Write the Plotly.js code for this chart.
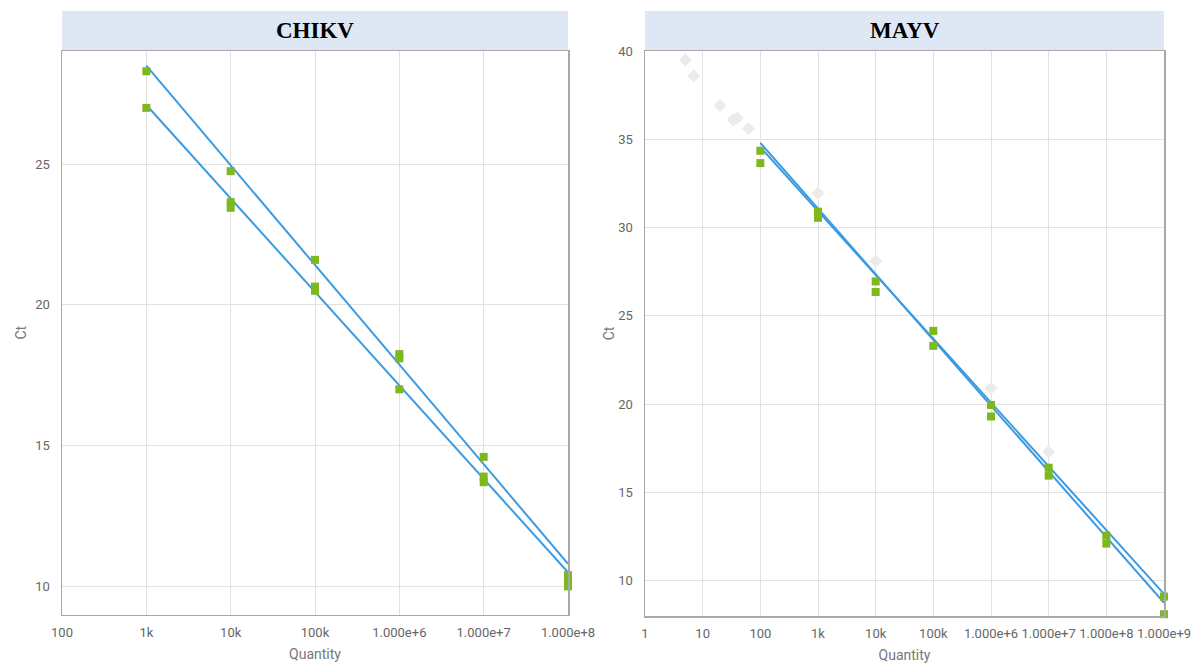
<!DOCTYPE html>
<html>
<head>
<meta charset="utf-8">
<script src="https://cdn.plot.ly/plotly-3.0.1.min.js"></script>
<style>
  html, body { margin: 0; padding: 0; background: #ffffff; }
  #chart { width: 1202px; height: 663px; }
</style>
</head>
<body>
<div id="chart"></div>
<script>
// CHIKV standard curve: replicate Ct values per copy quantity
const chikvQty = [1e3, 1e3, 1e4, 1e4, 1e4, 1e5, 1e5, 1e5, 1e6, 1e6, 1e6, 1e7, 1e7, 1e7, 1e8, 1e8, 1e8];
const chikvCt  = [28.3, 27.0, 24.75, 23.65, 23.45, 21.6, 20.65, 20.5, 18.25, 18.1, 17.0, 14.6, 13.9, 13.7, 10.4, 10.2, 10.0];

// CHIKV regression lines (two runs)
const chikvFitQty = [1e3, 1e8];
const chikvFitA   = [28.5, 10.8];
const chikvFitB   = [27.1, 10.5];

// MAYV standard curve: replicates used in the fit
const mayvQty = [100, 100, 1e3, 1e3, 1e4, 1e4, 1e5, 1e5, 1e6, 1e6, 1e7, 1e7, 1e8, 1e8, 1e9, 1e9];
const mayvCt  = [34.35, 33.65, 30.9, 30.55, 26.95, 26.35, 24.15, 23.3, 19.95, 19.3, 16.4, 15.95, 12.55, 12.1, 9.1, 8.1];

// MAYV excluded wells
const mayvOutQty = [5, 7, 20, 34, 40, 62, 1e3, 1e4, 1e6, 1e7];
const mayvOutCt  = [39.5, 38.6, 36.9, 36.1, 36.2, 35.6, 31.95, 28.1, 20.9, 17.3];

// MAYV regression lines (two runs)
const mayvFitQty = [100, 1e9];
const mayvFitA   = [34.55, 9.25];
const mayvFitB   = [34.8, 8.75];

// Tick labels
const chikvTickVals = [100, 1e3, 1e4, 1e5, 1e6, 1e7, 1e8];
const chikvTickText = ['100', '1k', '10k', '100k', '1.000e+6', '1.000e+7', '1.000e+8'];
const mayvTickVals  = [1, 10, 100, 1e3, 1e4, 1e5, 1e6, 1e7, 1e8, 1e9];
const mayvTickText  = ['1', '10', '100', '1k', '10k', '100k', '1.000e+6', '1.000e+7', '1.000e+8', '1.000e+9'];

const panelTitles = ['CHIKV', 'MAYV'];

const fitColor = '#3a9be2';
const pointColor = '#7eb71e';
const fadedColor = '#ebebeb';

function fitLine(x, y, xa, ya) {
  return { x, y, xaxis: xa, yaxis: ya, type: 'scatter', mode: 'lines',
           line: { color: fitColor, width: 2 }, hoverinfo: 'skip', cliponaxis: false };
}
function points(x, y, xa, ya, color, symbol, size) {
  return { x, y, xaxis: xa, yaxis: ya, type: 'scatter', mode: 'markers', cliponaxis: false,
           marker: { color, symbol, size, line: { width: 0 } } };
}

const data = [
  fitLine(chikvFitQty, chikvFitA, 'x', 'y'),
  fitLine(chikvFitQty, chikvFitB, 'x', 'y'),
  points(chikvQty, chikvCt, 'x', 'y', pointColor, 'square', 8),
  points(mayvOutQty, mayvOutCt, 'x2', 'y2', fadedColor, 'diamond', 10),
  fitLine(mayvFitQty, mayvFitA, 'x2', 'y2'),
  fitLine(mayvFitQty, mayvFitB, 'x2', 'y2'),
  points(mayvQty, mayvCt, 'x2', 'y2', pointColor, 'square', 8)
];

const W = 1202, H = 663;
const px = v => v / W;
const py = v => (H - v) / H;

const tickFont = { family: 'Roboto, sans-serif', size: 13, color: '#666' };
const titleFont = { family: 'Roboto, sans-serif', size: 14, color: '#777' };
const headFont = { family: '"Liberation Serif", "Times New Roman", serif', size: 23, color: '#000' };

function xAxis(domain, range, vals, text, anchor) {
  return {
    domain, type: 'log', range, anchor,
    tickvals: vals, ticktext: text, tickfont: tickFont,
    showgrid: true, gridcolor: '#e2e2e2', gridwidth: 1,
    showline: true, mirror: true, linecolor: '#a8a8a8', linewidth: 1.5,
    zeroline: false, ticks: '', ticklabelstandoff: 5,
    title: { text: 'Quantity', font: titleFont, standoff: 10 }
  };
}
function yAxis(domain, range, dtick, anchor, standoff) {
  return {
    domain, range, dtick, tick0: 0, anchor,
    tickfont: tickFont,
    showgrid: true, gridcolor: '#e2e2e2', gridwidth: 1,
    showline: true, mirror: true, linecolor: '#a8a8a8', linewidth: 1.5,
    zeroline: false, ticks: '', ticklabelstandoff: 8,
    title: { text: 'Ct', font: titleFont, standoff }
  };
}

const leftX = [px(62), px(568)];
const rightX = [px(645), px(1164)];

const layout = {
  width: W, height: H,
  margin: { l: 0, r: 0, t: 0, b: 0 },
  paper_bgcolor: '#ffffff', plot_bgcolor: '#ffffff',
  showlegend: false,
  xaxis: xAxis(leftX, [2, 8], chikvTickVals, chikvTickText, 'y'),
  yaxis: yAxis([py(614.5), py(51)], [9.0, 29.02], 5, 'x', 5),
  xaxis2: xAxis(rightX, [0, 9], mayvTickVals, mayvTickText, 'y2'),
  yaxis2: yAxis([py(616), py(51)], [8, 40], 5, 'x2', 0),
  shapes: [
    { type: 'rect', xref: 'paper', yref: 'paper', x0: leftX[0], x1: leftX[1],
      y0: py(51), y1: py(11), fillcolor: '#dde8f4', line: { width: 0 }, layer: 'below' },
    { type: 'rect', xref: 'paper', yref: 'paper', x0: rightX[0], x1: rightX[1],
      y0: py(51), y1: py(11), fillcolor: '#dde8f4', line: { width: 0 }, layer: 'below' }
  ],
  annotations: [
    { text: '<b>' + panelTitles[0] + '</b>', xref: 'paper', yref: 'paper',
      x: (leftX[0] + leftX[1]) / 2, y: py(31), xanchor: 'center', yanchor: 'middle',
      showarrow: false, font: headFont },
    { text: '<b>' + panelTitles[1] + '</b>', xref: 'paper', yref: 'paper',
      x: (rightX[0] + rightX[1]) / 2, y: py(31), xanchor: 'center', yanchor: 'middle',
      showarrow: false, font: headFont }
  ]
};

Plotly.newPlot('chart', data, layout, { displayModeBar: false, staticPlot: true });
</script>
</body>
</html>
